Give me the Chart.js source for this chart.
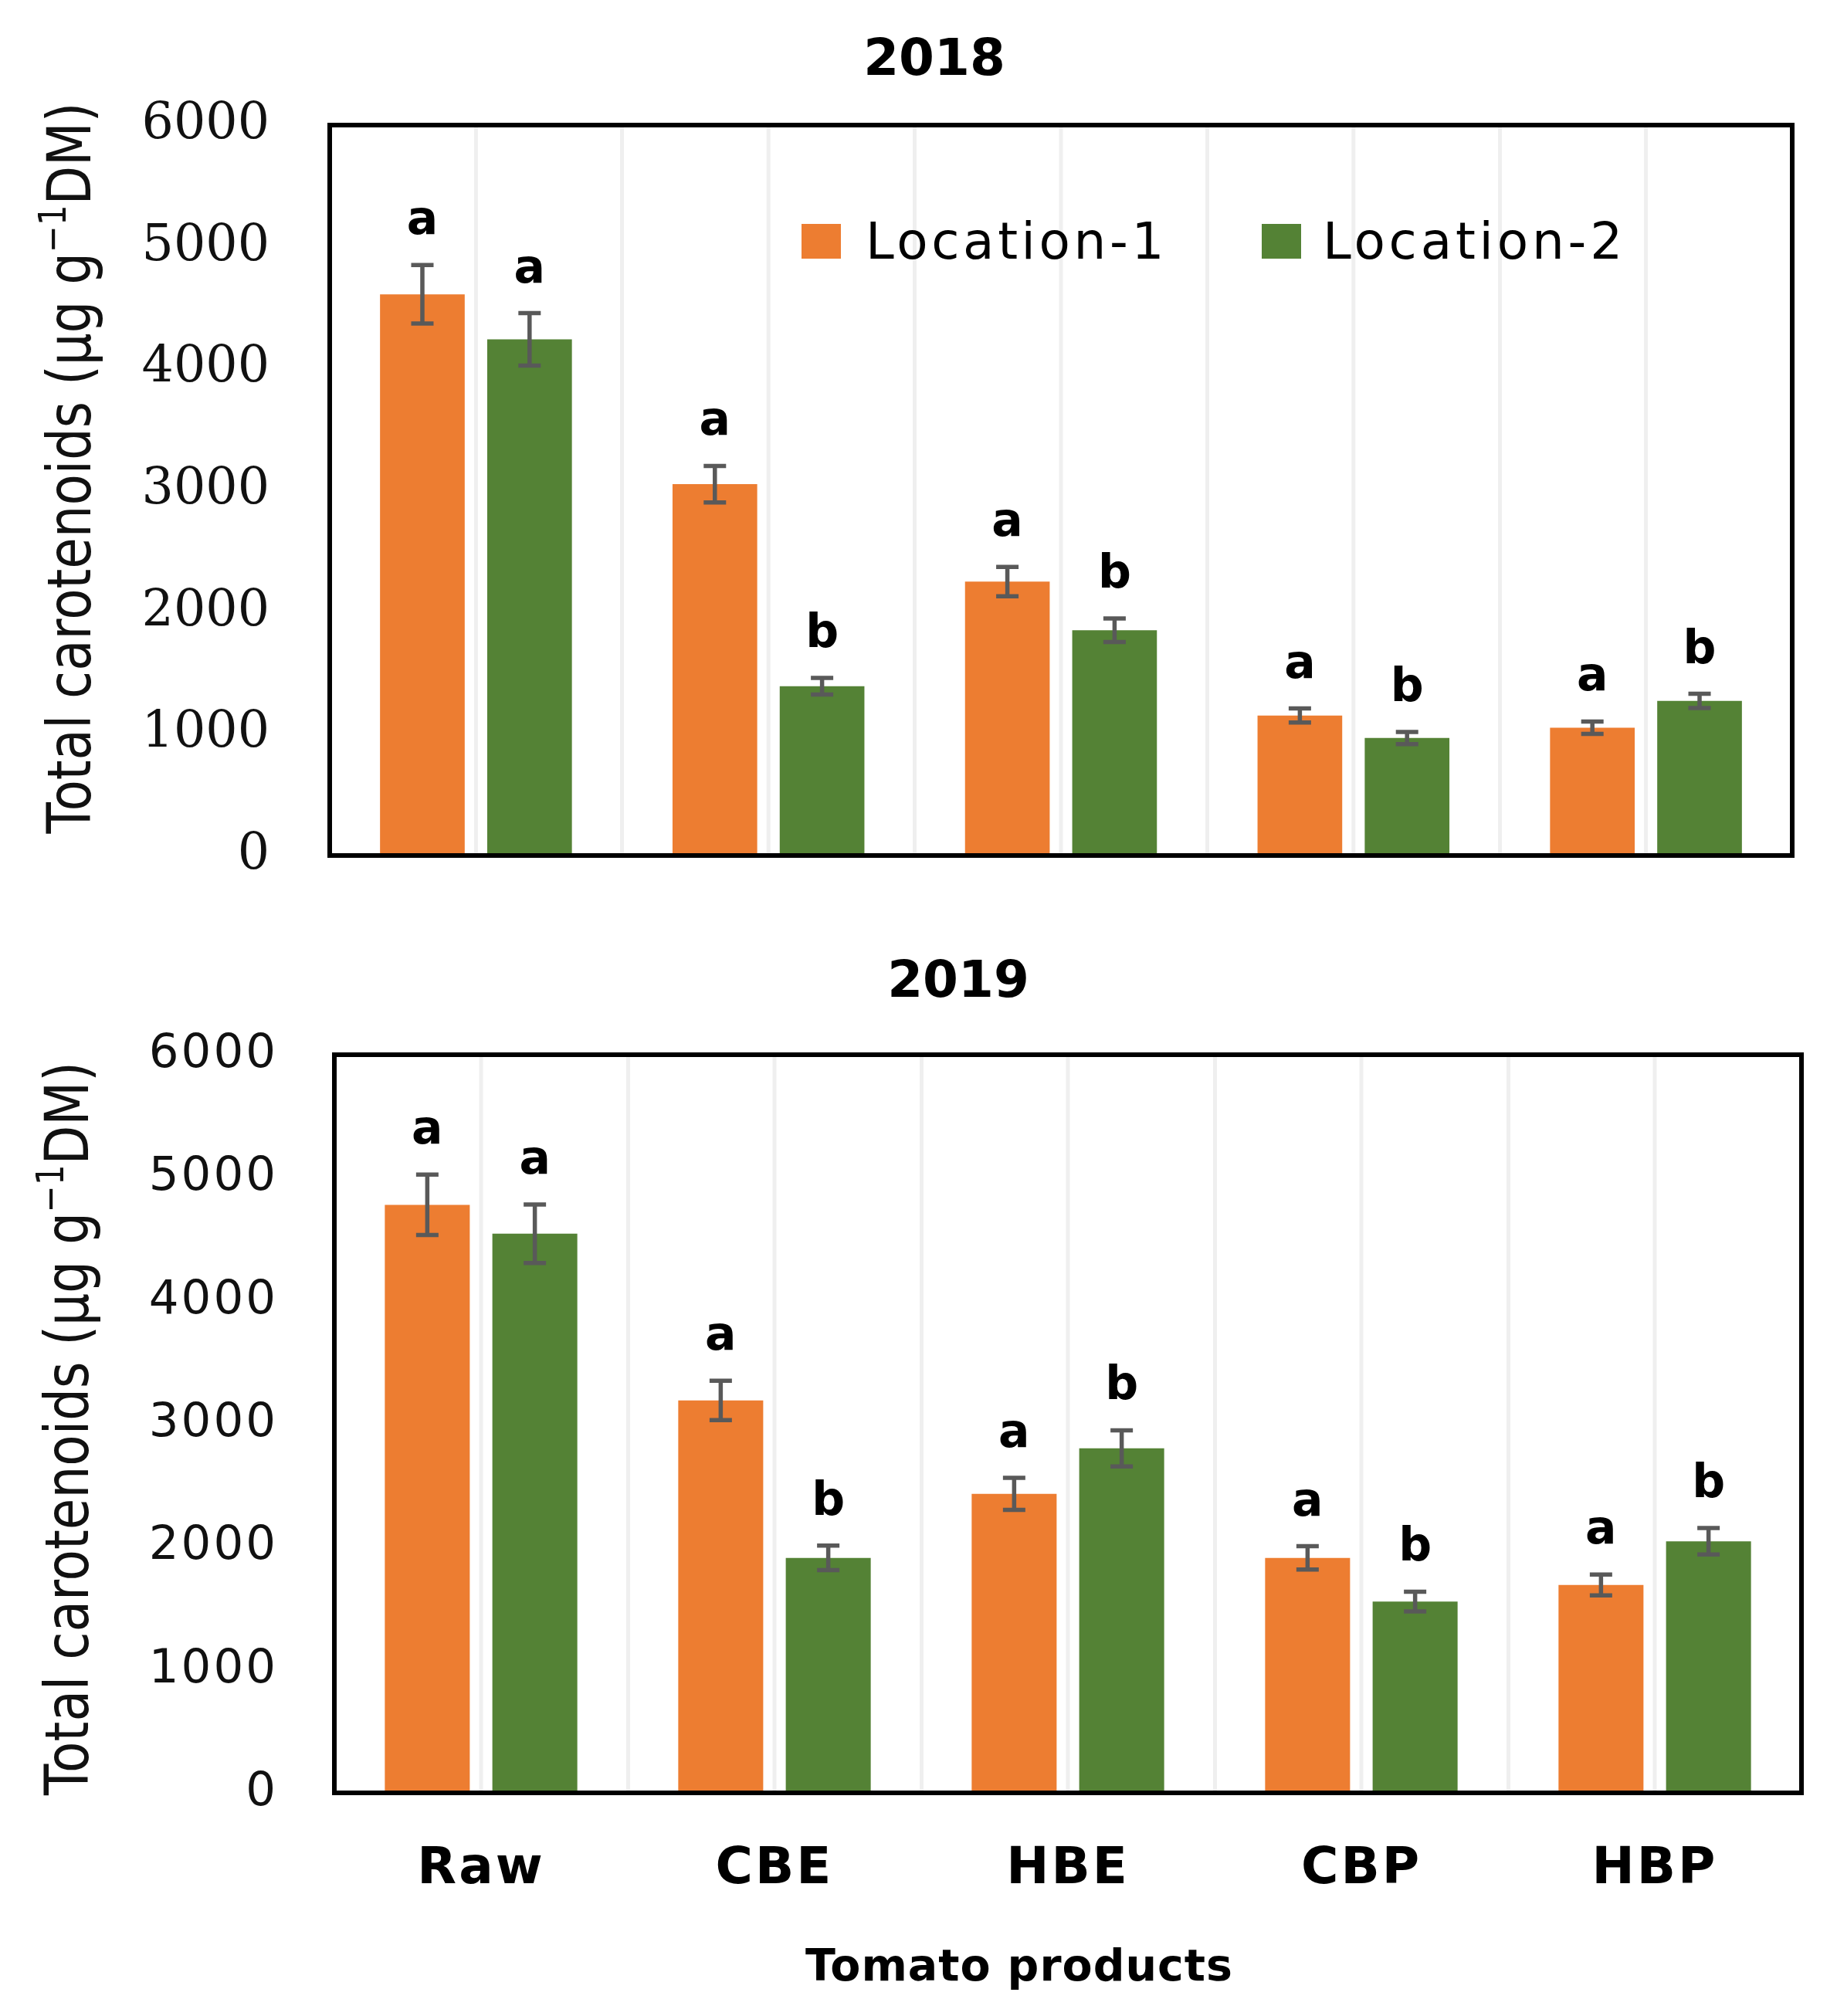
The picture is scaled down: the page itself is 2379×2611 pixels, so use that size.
<!DOCTYPE html>
<html>
<head>
<meta charset="utf-8">
<script src="https://cdn.jsdelivr.net/npm/chart.js@4.4.1/dist/chart.umd.min.js"></script>
<style>
  html, body { margin: 0; padding: 0; background: #fff; }
  #wrap { position: relative; width: 2379px; height: 2611px; }
  canvas { position: absolute; left: 0; }
</style>
</head>
<body>
<div id="wrap">
  <canvas id="c2018" width="2379" height="1240" style="top:0px"></canvas>
  <canvas id="c2019" width="2379" height="1451" style="top:1160px"></canvas>
</div>
<script>
const products = ["Raw", "CBE", "HBE", "CBP", "HBP"];
const seriesNames = ["Location-1", "Location-2"];
const seriesColors = ["#ED7D31", "#548235"];
const yTicks = [0, 1000, 2000, 3000, 4000, 5000, 6000];

// 2018 means, error bars and significance letters
const loc1_2018 = [4610, 3050, 2250, 1150, 1050];
const loc2_2018 = [4240, 1390, 1850, 965, 1270];
const err1_2018 = [240, 150, 120, 58, 51];
const err2_2018 = [215, 68, 97, 50, 58];
const sig1_2018 = ["a", "a", "a", "a", "a"];
const sig2_2018 = ["a", "b", "b", "b", "b"];

// 2019
const loc1_2019 = [4780, 3190, 2430, 1910, 1690];
const loc2_2019 = [4545, 1910, 2800, 1555, 2045];
const err1_2019 = [245, 160, 130, 95, 85];
const err2_2019 = [238, 100, 147, 80, 107];
const sig1_2019 = ["a", "a", "a", "a", "a"];
const sig2_2019 = ["a", "b", "b", "b", "b"];

const SANS = '"DejaVu Sans", sans-serif';

function drawYTitle(ctx, baseX, midY, length) {
  const size = 79, supSize = 50;
  const p1 = "Total carotenoids (\u00b5g g", sup = "\u22121", p2 = "DM)";
  ctx.save();
  ctx.fillStyle = "#111";
  ctx.font = size + "px " + SANS;
  const w1 = ctx.measureText(p1).width, w3 = ctx.measureText(p2).width;
  ctx.font = supSize + "px " + SANS;
  const w2 = ctx.measureText(sup).width;
  const total = w1 + w2 + w3;
  ctx.translate(baseX, midY);
  ctx.rotate(-Math.PI / 2);
  ctx.scale(length / total, 1);
  ctx.textBaseline = "alphabetic";
  ctx.textAlign = "left";
  let x = -total / 2;
  ctx.font = size + "px " + SANS;
  ctx.fillText(p1, x, 0);
  x += w1;
  ctx.font = supSize + "px " + SANS;
  ctx.fillText(sup, x, -32);
  x += w2;
  ctx.font = size + "px " + SANS;
  ctx.fillText(p2, x, 0);
  ctx.restore();
}

function decor(cfg) {
  return {
    id: "decor",
    beforeDraw(chart) {
      // x labels in the reference are a little spread out
      chart.ctx.letterSpacing = cfg.showX ? "3px" : "0px";
    },
    beforeDatasetsDraw(chart) {
      const { ctx, chartArea: a, scales: { x } } = chart;
      ctx.letterSpacing = "0px";
      // light lines through the middle of each category
      ctx.save();
      ctx.fillStyle = "#efefef";
      products.forEach((p, i) => {
        const px = x.getPixelForValue(i);
        ctx.fillRect(px - 2.5, a.top, 5, a.bottom - a.top);
      });
      ctx.restore();
    },
    afterDatasetsDraw(chart) {
      const { ctx, chartArea: a, scales: { y } } = chart;
      ctx.save();
      ctx.strokeStyle = "#000";
      ctx.lineWidth = 6;
      ctx.strokeRect(a.left, a.top, a.right - a.left, a.bottom - a.top);

      chart.data.datasets.forEach((ds, d) => {
        chart.getDatasetMeta(d).data.forEach((bar, i) => {
          const v = ds.data[i], e = ds.errors[i];
          const yT = y.getPixelForValue(v + e);
          const yB = y.getPixelForValue(v - e);
          ctx.strokeStyle = "#595959";
          ctx.lineWidth = 5.5;
          ctx.beginPath();
          ctx.moveTo(bar.x, yT); ctx.lineTo(bar.x, yB);
          ctx.moveTo(bar.x - 14.5, yT); ctx.lineTo(bar.x + 14.5, yT);
          ctx.moveTo(bar.x - 14.5, yB); ctx.lineTo(bar.x + 14.5, yB);
          ctx.stroke();
          ctx.fillStyle = "#000";
          ctx.font = "bold 60px " + SANS;
          ctx.textAlign = "center";
          ctx.textBaseline = "alphabetic";
          ctx.fillText(ds.letters[i], bar.x, yT - 40);
        });
      });
      ctx.restore();
    },
    afterDraw(chart) {
      const ctx = chart.ctx;
      ctx.save();
      ctx.fillStyle = "#000";
      ctx.textAlign = "center";
      ctx.textBaseline = "alphabetic";
      ctx.font = "bold 66px " + SANS;
      ctx.fillText(cfg.title, cfg.titleX, cfg.titleY);
      ctx.restore();

      drawYTitle(ctx, cfg.yTitleX, cfg.yTitleMid, cfg.yTitleLen);

      if (cfg.legend) {
        ctx.save();
        ctx.font = "66px " + SANS;
        ctx.textBaseline = "alphabetic";
        ctx.textAlign = "left";
        chart.data.datasets.forEach((ds, d) => {
          const it = cfg.legend[d];
          ctx.fillStyle = ds.backgroundColor;
          ctx.fillRect(it.x, 290, 51, 45);
          ctx.letterSpacing = "0px";
          const w = ctx.measureText(ds.label).width;
          ctx.letterSpacing = ((it.w - w) / ds.label.length) + "px";
          ctx.fillStyle = "#000";
          ctx.fillText(ds.label, it.tx, 335);
        });
        ctx.restore();
      }

      if (cfg.xTitle) {
        ctx.save();
        ctx.fillStyle = "#000";
        ctx.font = "bold 57px " + SANS;
        ctx.textAlign = "center";
        ctx.textBaseline = "alphabetic";
        ctx.letterSpacing = "1px";
        ctx.fillText(cfg.xTitle, 1320, cfg.xTitleY);
        ctx.restore();
      }
    }
  };
}

function makePanel(id, l1, l2, e1, e2, s1, s2, cfg) {
  const canvas = document.getElementById(id);
  return new Chart(canvas, {
    type: "bar",
    data: {
      labels: products,
      datasets: [
        { label: seriesNames[0], data: l1, errors: e1, letters: s1,
          backgroundColor: seriesColors[0], borderWidth: 0,
          categoryPercentage: 0.733, barPercentage: 0.79 },
        { label: seriesNames[1], data: l2, errors: e2, letters: s2,
          backgroundColor: seriesColors[1], borderWidth: 0,
          categoryPercentage: 0.733, barPercentage: 0.79 }
      ]
    },
    options: {
      responsive: false,
      animation: false,
      devicePixelRatio: 1,
      layout: { padding: cfg.padding },
      plugins: { legend: { display: false }, tooltip: { enabled: false }, title: { display: false } },
      scales: {
        x: {
          grid: { color: "#efefef", lineWidth: 5, offset: true, drawTicks: false },
          border: { display: false },
          ticks: {
            display: cfg.showX,
            color: "#000",
            padding: 60,
            font: { family: SANS, weight: "bold", size: 66 }
          },
          afterFit: s => { s.height = cfg.xHeight; }
        },
        y: {
          min: 0,
          max: 6000,
          grid: { display: false },
          border: { display: false },
          ticks: {
            color: "#111",
            padding: cfg.tickPad,
            font: cfg.tickFont,
            callback: v => String(v)
          },
          afterBuildTicks: s => { s.ticks = yTicks.map(v => ({ value: v })); },
          afterFit: s => { s.width = cfg.yWidth; }
        }
      }
    },
    plugins: [decor(cfg)]
  });
}

makePanel("c2018", loc1_2018, loc2_2018, err1_2018, err2_2018, sig1_2018, sig2_2018, {
  padding: { top: 162, right: 58, bottom: 0, left: 0 },
  xHeight: 132,
  yWidth: 427,
  showX: false,
  tickPad: 70,
  tickFont: { family: '"DejaVu Serif", serif', size: 65 },
  title: "2018", titleX: 1210, titleY: 97,
  yTitleX: 117, yTitleMid: 606, yTitleLen: 947,
  legend: [ { x: 1038, tx: 1121, w: 391 }, { x: 1634, tx: 1713, w: 393 } ]
});

makePanel("c2019", loc1_2019, loc2_2019, err1_2019, err2_2019, sig1_2019, sig2_2019, {
  padding: { top: 206, right: 46, bottom: 0, left: 0 },
  xHeight: 289,
  yWidth: 433,
  showX: true,
  tickPad: 65,
  tickFont: { family: SANS, size: 61 },
  title: "2019", titleX: 1241, titleY: 131,
  yTitleX: 114, yTitleMid: 690, yTitleLen: 950,
  xTitle: "Tomato products", xTitleY: 1405
});
</script>
</body>
</html>
